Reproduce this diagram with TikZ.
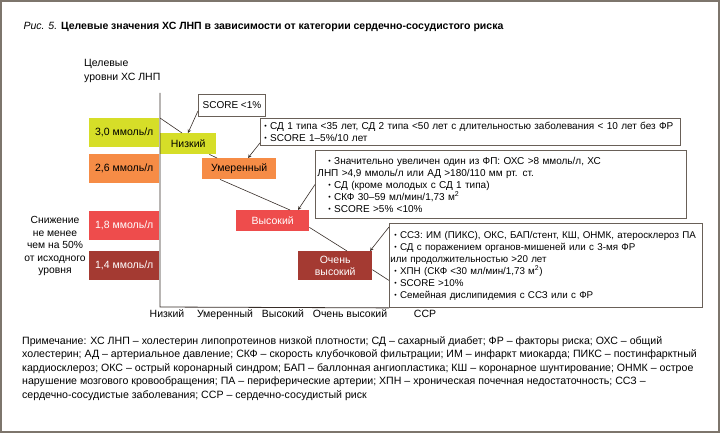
\documentclass[tikz,border=0pt]{standalone}
\usepackage{fontspec}
\setmainfont{Liberation Sans}
\usetikzlibrary{positioning}
\definecolor{lime}{RGB}{214,222,40}
\definecolor{orng}{RGB}{246,140,70}
\definecolor{redbox}{RGB}{238,76,76}
\definecolor{darkred}{RGB}{164,58,50}
\definecolor{framegray}{RGB}{125,117,108}
\definecolor{boxgray}{RGB}{105,96,88}
\definecolor{linegray}{RGB}{55,45,40}
\newcommand{\bul}{\raisebox{0.15ex}{\scalebox{0.7}{\textbullet}}\ }

\begin{document}
\begin{tikzpicture}[x=1pt, y=-1pt, >=stealth, font=\fontsize{10.5}{12}\selectfont,
    level/.style={minimum width=70pt, minimum height=29pt, inner sep=0pt, anchor=north west},
    risk/.style={minimum height=21pt, inner sep=0pt, align=center, anchor=north west},
    callout/.style={draw=boxgray, line width=0.9pt, fill=white, align=left, anchor=north west, inner xsep=4pt, inner ysep=3pt, font=\fontsize{10}{12}\selectfont},
    axislabel/.style={anchor=base},
    link/.style={draw=linegray, line width=0.6pt},
    pointer/.style={->, draw=linegray, line width=0.6pt}]
    \useasboundingbox (0,0) rectangle (720,433);
    \draw[framegray, line width=2pt] (1,1) rectangle (719,432);

    % caption and axis titles
    \node[anchor=west] (title) at (20,27) {\textit{Рис. 5.} \textbf{Целевые значения ХС ЛНП в зависимости от категории сердечно-сосудистого риска}};
    \node[anchor=north west, align=left, inner sep=0pt, font=\fontsize{10.5}{14}\selectfont] (ytitle) at (84,59) {Целевые\\уровни ХС ЛНП};
    \node[align=center, font=\fontsize{10.3}{12.5}\selectfont] (drop) at (55,246) {Снижение\\не менее\\чем на 50\%\\от исходного\\уровня};

    % target levels
    \node[level, fill=lime] (l30) at (89,118) {3,0 ммоль/л};
    \node[level, fill=orng] (l26) at (89,154) {2,6 ммоль/л};
    \node[level, fill=redbox, text=white] (l18) at (89,211) {1,8 ммоль/л};
    \node[level, fill=darkred, text=white] (l14) at (89,251) {1,4 ммоль/л};

    % risk categories
    \node[risk, fill=lime, minimum width=56pt] (low) at (160,133) {Низкий};
    \node[risk, fill=orng, minimum width=74pt] (mod) at (202,158) {Умеренный};
    \node[risk, fill=redbox, text=white, minimum width=73pt] (high) at (236,210) {Высокий};
    \node[risk, fill=darkred, text=white, minimum width=74pt, minimum height=29pt] (vhigh) at (298,251) {Очень\\высокий};

    % criteria
    \node[callout, minimum width=67pt, minimum height=22pt] (c1) at (198,94) {SCORE <1\%};
    \node[callout, text width=412pt, minimum height=27pt] (c2) at (260,118) {\bul СД 1 типа <35 лет, СД 2 типа <50 лет с длительностью заболевания < 10 лет без ФР\\\bul SCORE 1–5\%/10 лет};
    \node[callout, text width=367pt, minimum height=68pt, inner xsep=2pt] (c3) at (315,150) {\hspace{11pt}\bul Значительно увеличен один из ФП: ОХС >8 ммоль/л, ХС\\ЛНП >4,9 ммоль/л или АД >180/110 мм рт. ст.\\\hspace{11pt}\bul СД (кроме молодых с СД 1 типа)\\\hspace{11pt}\bul СКФ 30–59 мл/мин/1,73 м\textsuperscript{2}\\\hspace{11pt}\bul SCORE >5\% <10\%};
    \node[callout, text width=311pt, minimum height=84pt, inner xsep=1pt, font=\fontsize{9.8}{12}\selectfont] (c4) at (389,223) {\hspace{4pt}\bul ССЗ: ИМ (ПИКС), ОКС, БАП/стент, КШ, ОНМК, атеросклероз ПА\\\hspace{4pt}\bul СД с поражением органов-мишеней или с 3-мя ФР\\или продолжительностью >20 лет\\\hspace{4pt}\bul ХПН (СКФ <30 мл/мин/1,73 м\textsuperscript{2})\\\hspace{4pt}\bul SCORE >10\%\\\hspace{4pt}\bul Семейная дислипидемия с ССЗ или с ФР};

    % axes
    \coordinate (ytop) at (160,93);
    \coordinate (origin) at (160,307);
    \coordinate (ystart) at (160,118);
    \draw[linegray, line width=0.8pt] (ytop) -- (origin) -- (c4.south west);

    % risk line
    \draw[link] (ystart) -- ([xshift=22pt]low.north west);
    \draw[link] ([xshift=-7pt]low.south east) -- ([xshift=15pt]mod.north west);
    \draw[link] ([xshift=18pt]mod.south west) -- ([xshift=54pt]high.north west);
    \draw[link] ([yshift=4pt]high.south east) -- ([xshift=49pt]vhigh.north west);
    \draw[link] ([yshift=-4pt]vhigh.east) -- ([yshift=-15pt]c4.west);

    \draw[pointer] ([yshift=6pt]c1.south west) -- ([xshift=28pt]low.north west);
    \draw[pointer] ([yshift=3pt]c2.south west) -- ([xshift=46pt]mod.north west);
    \draw[pointer] (c3.west) -- ([xshift=62pt]high.north west);
    \draw[pointer] ([yshift=-4pt]c4.north west) -- ([xshift=72pt]vhigh.north west);

    % categories on x axis
    \node[axislabel] (xlow) at (167,317) {Низкий};
    \node[axislabel] (xmod) at (225,317) {Умеренный};
    \node[axislabel] (xhigh) at (283,317) {Высокий};
    \node[axislabel] (xvhigh) at (350,317) {Очень высокий};
    \node[axislabel] (xrisk) at (425,317) {ССР};

    % note
    \node[anchor=north west, align=left, inner sep=0pt, font=\fontsize{10.6}{13.5}\selectfont] (note) at (22,336) {Примечание: ХС ЛНП – холестерин липопротеинов низкой плотности; СД – сахарный диабет; ФР – факторы риска; ОХС – общий\\холестерин; АД – артериальное давление; СКФ – скорость клубочковой фильтрации; ИМ – инфаркт миокарда; ПИКС – постинфарктный\\кардиосклероз; ОКС – острый коронарный синдром; БАП – баллонная ангиопластика; КШ – коронарное шунтирование; ОНМК – острое\\нарушение мозгового кровообращения; ПА – периферические артерии; ХПН – хроническая почечная недостаточность; ССЗ –\\сердечно-сосудистые заболевания; ССР – сердечно-сосудистый риск};
\end{tikzpicture}
\end{document}
